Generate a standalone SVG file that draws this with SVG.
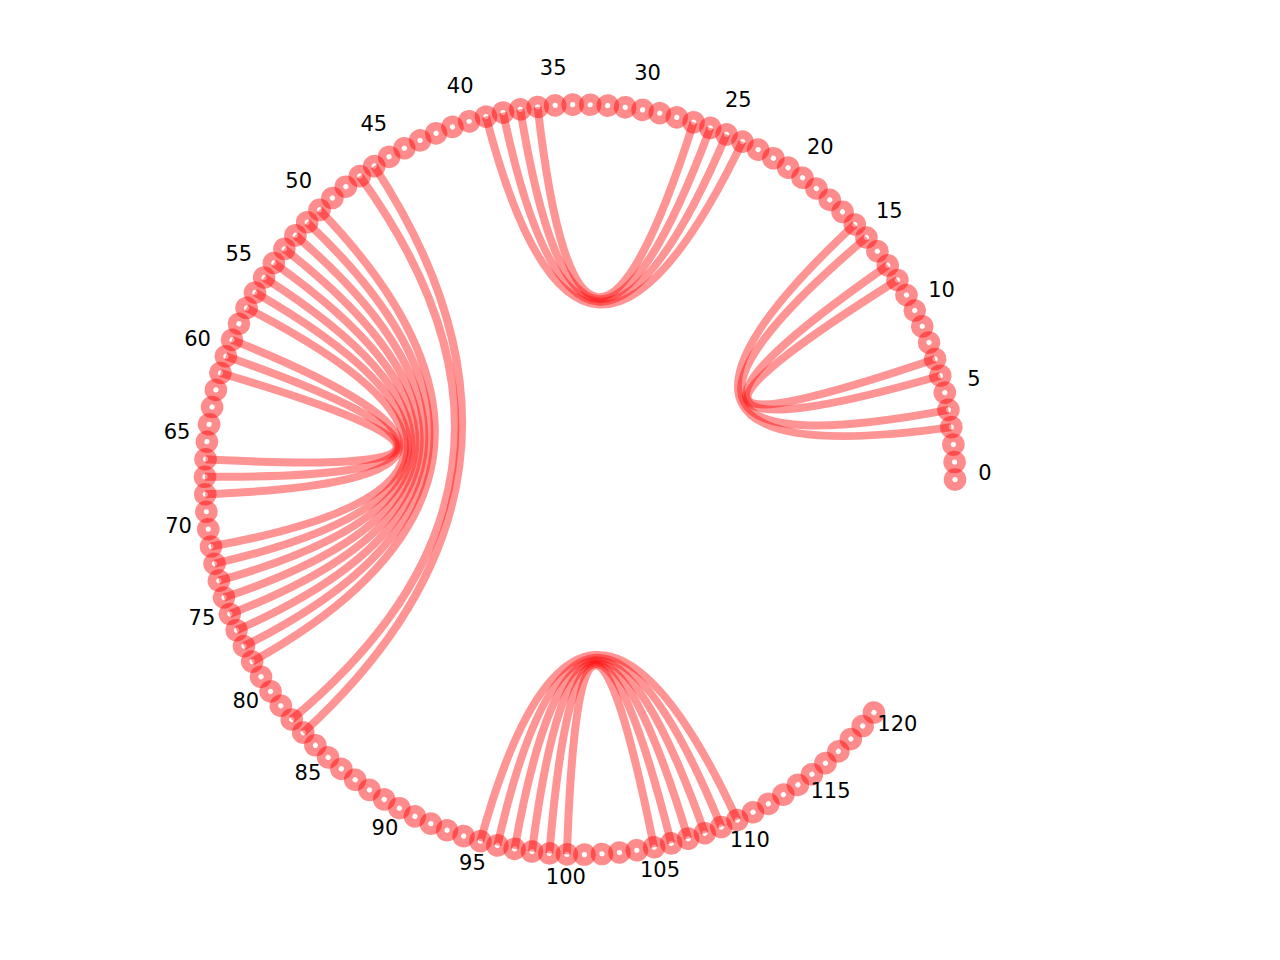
<svg xmlns="http://www.w3.org/2000/svg" xmlns:xlink="http://www.w3.org/1999/xlink" width="1280" height="960" viewBox="0 0 1280 960">
<style>
.ring{fill:#ff0000;fill-opacity:0.45}
.dot{fill:#ffffff}
.edge{fill:none;stroke:#ff0000;stroke-opacity:0.42;stroke-width:8;stroke-linecap:butt}
.lbl{font-family:"DejaVu Sans","Liberation Sans",sans-serif;font-size:21px;fill:#000;text-anchor:middle}
</style>
<defs>
<g id="nd"><circle class="ring" cx="955" cy="479.6" r="11.3"/><circle class="dot" cx="955" cy="479.6" r="2.6"/></g>
</defs>
<rect width="1280" height="960" fill="#fff"/>
<g id="nodes">
<g id="node-0"><use href="#nd"/></g>
<g id="node-1"><use href="#nd" transform="rotate(-2.68 580 479.6)"/></g>
<g id="node-2"><use href="#nd" transform="rotate(-5.36 580 479.6)"/></g>
<g id="node-3"><use href="#nd" transform="rotate(-8.04 580 479.6)"/></g>
<g id="node-4"><use href="#nd" transform="rotate(-10.72 580 479.6)"/></g>
<g id="node-5"><use href="#nd" transform="rotate(-13.4 580 479.6)"/></g>
<g id="node-6"><use href="#nd" transform="rotate(-16.08 580 479.6)"/></g>
<g id="node-7"><use href="#nd" transform="rotate(-18.76 580 479.6)"/></g>
<g id="node-8"><use href="#nd" transform="rotate(-21.44 580 479.6)"/></g>
<g id="node-9"><use href="#nd" transform="rotate(-24.12 580 479.6)"/></g>
<g id="node-10"><use href="#nd" transform="rotate(-26.8 580 479.6)"/></g>
<g id="node-11"><use href="#nd" transform="rotate(-29.48 580 479.6)"/></g>
<g id="node-12"><use href="#nd" transform="rotate(-32.16 580 479.6)"/></g>
<g id="node-13"><use href="#nd" transform="rotate(-34.84 580 479.6)"/></g>
<g id="node-14"><use href="#nd" transform="rotate(-37.52 580 479.6)"/></g>
<g id="node-15"><use href="#nd" transform="rotate(-40.2 580 479.6)"/></g>
<g id="node-16"><use href="#nd" transform="rotate(-42.88 580 479.6)"/></g>
<g id="node-17"><use href="#nd" transform="rotate(-45.56 580 479.6)"/></g>
<g id="node-18"><use href="#nd" transform="rotate(-48.24 580 479.6)"/></g>
<g id="node-19"><use href="#nd" transform="rotate(-50.92 580 479.6)"/></g>
<g id="node-20"><use href="#nd" transform="rotate(-53.6 580 479.6)"/></g>
<g id="node-21"><use href="#nd" transform="rotate(-56.28 580 479.6)"/></g>
<g id="node-22"><use href="#nd" transform="rotate(-58.96 580 479.6)"/></g>
<g id="node-23"><use href="#nd" transform="rotate(-61.64 580 479.6)"/></g>
<g id="node-24"><use href="#nd" transform="rotate(-64.32 580 479.6)"/></g>
<g id="node-25"><use href="#nd" transform="rotate(-67 580 479.6)"/></g>
<g id="node-26"><use href="#nd" transform="rotate(-69.68 580 479.6)"/></g>
<g id="node-27"><use href="#nd" transform="rotate(-72.36 580 479.6)"/></g>
<g id="node-28"><use href="#nd" transform="rotate(-75.04 580 479.6)"/></g>
<g id="node-29"><use href="#nd" transform="rotate(-77.72 580 479.6)"/></g>
<g id="node-30"><use href="#nd" transform="rotate(-80.4 580 479.6)"/></g>
<g id="node-31"><use href="#nd" transform="rotate(-83.08 580 479.6)"/></g>
<g id="node-32"><use href="#nd" transform="rotate(-85.76 580 479.6)"/></g>
<g id="node-33"><use href="#nd" transform="rotate(-88.44 580 479.6)"/></g>
<g id="node-34"><use href="#nd" transform="rotate(-91.12 580 479.6)"/></g>
<g id="node-35"><use href="#nd" transform="rotate(-93.8 580 479.6)"/></g>
<g id="node-36"><use href="#nd" transform="rotate(-96.48 580 479.6)"/></g>
<g id="node-37"><use href="#nd" transform="rotate(-99.16 580 479.6)"/></g>
<g id="node-38"><use href="#nd" transform="rotate(-101.84 580 479.6)"/></g>
<g id="node-39"><use href="#nd" transform="rotate(-104.52 580 479.6)"/></g>
<g id="node-40"><use href="#nd" transform="rotate(-107.2 580 479.6)"/></g>
<g id="node-41"><use href="#nd" transform="rotate(-109.88 580 479.6)"/></g>
<g id="node-42"><use href="#nd" transform="rotate(-112.56 580 479.6)"/></g>
<g id="node-43"><use href="#nd" transform="rotate(-115.24 580 479.6)"/></g>
<g id="node-44"><use href="#nd" transform="rotate(-117.92 580 479.6)"/></g>
<g id="node-45"><use href="#nd" transform="rotate(-120.6 580 479.6)"/></g>
<g id="node-46"><use href="#nd" transform="rotate(-123.28 580 479.6)"/></g>
<g id="node-47"><use href="#nd" transform="rotate(-125.96 580 479.6)"/></g>
<g id="node-48"><use href="#nd" transform="rotate(-128.64 580 479.6)"/></g>
<g id="node-49"><use href="#nd" transform="rotate(-131.32 580 479.6)"/></g>
<g id="node-50"><use href="#nd" transform="rotate(-134 580 479.6)"/></g>
<g id="node-51"><use href="#nd" transform="rotate(-136.68 580 479.6)"/></g>
<g id="node-52"><use href="#nd" transform="rotate(-139.36 580 479.6)"/></g>
<g id="node-53"><use href="#nd" transform="rotate(-142.04 580 479.6)"/></g>
<g id="node-54"><use href="#nd" transform="rotate(-144.72 580 479.6)"/></g>
<g id="node-55"><use href="#nd" transform="rotate(-147.4 580 479.6)"/></g>
<g id="node-56"><use href="#nd" transform="rotate(-150.08 580 479.6)"/></g>
<g id="node-57"><use href="#nd" transform="rotate(-152.76 580 479.6)"/></g>
<g id="node-58"><use href="#nd" transform="rotate(-155.44 580 479.6)"/></g>
<g id="node-59"><use href="#nd" transform="rotate(-158.12 580 479.6)"/></g>
<g id="node-60"><use href="#nd" transform="rotate(-160.8 580 479.6)"/></g>
<g id="node-61"><use href="#nd" transform="rotate(-163.48 580 479.6)"/></g>
<g id="node-62"><use href="#nd" transform="rotate(-166.16 580 479.6)"/></g>
<g id="node-63"><use href="#nd" transform="rotate(-168.84 580 479.6)"/></g>
<g id="node-64"><use href="#nd" transform="rotate(-171.52 580 479.6)"/></g>
<g id="node-65"><use href="#nd" transform="rotate(-174.2 580 479.6)"/></g>
<g id="node-66"><use href="#nd" transform="rotate(-176.88 580 479.6)"/></g>
<g id="node-67"><use href="#nd" transform="rotate(-179.56 580 479.6)"/></g>
<g id="node-68"><use href="#nd" transform="rotate(-182.24 580 479.6)"/></g>
<g id="node-69"><use href="#nd" transform="rotate(-184.92 580 479.6)"/></g>
<g id="node-70"><use href="#nd" transform="rotate(-187.6 580 479.6)"/></g>
<g id="node-71"><use href="#nd" transform="rotate(-190.28 580 479.6)"/></g>
<g id="node-72"><use href="#nd" transform="rotate(-192.96 580 479.6)"/></g>
<g id="node-73"><use href="#nd" transform="rotate(-195.64 580 479.6)"/></g>
<g id="node-74"><use href="#nd" transform="rotate(-198.32 580 479.6)"/></g>
<g id="node-75"><use href="#nd" transform="rotate(-201 580 479.6)"/></g>
<g id="node-76"><use href="#nd" transform="rotate(-203.68 580 479.6)"/></g>
<g id="node-77"><use href="#nd" transform="rotate(-206.36 580 479.6)"/></g>
<g id="node-78"><use href="#nd" transform="rotate(-209.04 580 479.6)"/></g>
<g id="node-79"><use href="#nd" transform="rotate(-211.72 580 479.6)"/></g>
<g id="node-80"><use href="#nd" transform="rotate(-214.4 580 479.6)"/></g>
<g id="node-81"><use href="#nd" transform="rotate(-217.08 580 479.6)"/></g>
<g id="node-82"><use href="#nd" transform="rotate(-219.76 580 479.6)"/></g>
<g id="node-83"><use href="#nd" transform="rotate(-222.44 580 479.6)"/></g>
<g id="node-84"><use href="#nd" transform="rotate(-225.12 580 479.6)"/></g>
<g id="node-85"><use href="#nd" transform="rotate(-227.8 580 479.6)"/></g>
<g id="node-86"><use href="#nd" transform="rotate(-230.48 580 479.6)"/></g>
<g id="node-87"><use href="#nd" transform="rotate(-233.16 580 479.6)"/></g>
<g id="node-88"><use href="#nd" transform="rotate(-235.84 580 479.6)"/></g>
<g id="node-89"><use href="#nd" transform="rotate(-238.52 580 479.6)"/></g>
<g id="node-90"><use href="#nd" transform="rotate(-241.2 580 479.6)"/></g>
<g id="node-91"><use href="#nd" transform="rotate(-243.88 580 479.6)"/></g>
<g id="node-92"><use href="#nd" transform="rotate(-246.56 580 479.6)"/></g>
<g id="node-93"><use href="#nd" transform="rotate(-249.24 580 479.6)"/></g>
<g id="node-94"><use href="#nd" transform="rotate(-251.92 580 479.6)"/></g>
<g id="node-95"><use href="#nd" transform="rotate(-254.6 580 479.6)"/></g>
<g id="node-96"><use href="#nd" transform="rotate(-257.28 580 479.6)"/></g>
<g id="node-97"><use href="#nd" transform="rotate(-259.96 580 479.6)"/></g>
<g id="node-98"><use href="#nd" transform="rotate(-262.64 580 479.6)"/></g>
<g id="node-99"><use href="#nd" transform="rotate(-265.32 580 479.6)"/></g>
<g id="node-100"><use href="#nd" transform="rotate(-268 580 479.6)"/></g>
<g id="node-101"><use href="#nd" transform="rotate(-270.68 580 479.6)"/></g>
<g id="node-102"><use href="#nd" transform="rotate(-273.36 580 479.6)"/></g>
<g id="node-103"><use href="#nd" transform="rotate(-276.04 580 479.6)"/></g>
<g id="node-104"><use href="#nd" transform="rotate(-278.72 580 479.6)"/></g>
<g id="node-105"><use href="#nd" transform="rotate(-281.4 580 479.6)"/></g>
<g id="node-106"><use href="#nd" transform="rotate(-284.08 580 479.6)"/></g>
<g id="node-107"><use href="#nd" transform="rotate(-286.76 580 479.6)"/></g>
<g id="node-108"><use href="#nd" transform="rotate(-289.44 580 479.6)"/></g>
<g id="node-109"><use href="#nd" transform="rotate(-292.12 580 479.6)"/></g>
<g id="node-110"><use href="#nd" transform="rotate(-294.8 580 479.6)"/></g>
<g id="node-111"><use href="#nd" transform="rotate(-297.48 580 479.6)"/></g>
<g id="node-112"><use href="#nd" transform="rotate(-300.16 580 479.6)"/></g>
<g id="node-113"><use href="#nd" transform="rotate(-302.84 580 479.6)"/></g>
<g id="node-114"><use href="#nd" transform="rotate(-305.52 580 479.6)"/></g>
<g id="node-115"><use href="#nd" transform="rotate(-308.2 580 479.6)"/></g>
<g id="node-116"><use href="#nd" transform="rotate(-310.88 580 479.6)"/></g>
<g id="node-117"><use href="#nd" transform="rotate(-313.56 580 479.6)"/></g>
<g id="node-118"><use href="#nd" transform="rotate(-316.24 580 479.6)"/></g>
<g id="node-119"><use href="#nd" transform="rotate(-318.92 580 479.6)"/></g>
<g id="node-120"><use href="#nd" transform="rotate(-321.6 580 479.6)"/></g>
</g>
<g id="connectors">
<g id="edges-a" transform="rotate(-25.46 580 479.6)">
<path class="edge" d="M952.44 435.85Q580 479.6 952.44 523.35"/>
<path class="edge" d="M949.99 418.48Q580 479.6 949.99 540.72"/>
<path class="edge" d="M942.66 384.19Q580 479.6 942.66 575.01"/>
<path class="edge" d="M937.8 367.33Q580 479.6 937.8 591.87"/>
</g>
<g id="edges-b" transform="rotate(-84.42 580 479.6)">
<path class="edge" d="M946.72 401.25Q580 479.6 946.72 557.95"/>
<path class="edge" d="M942.66 384.19Q580 479.6 942.66 575.01"/>
<path class="edge" d="M937.8 367.33Q580 479.6 937.8 591.87"/>
<path class="edge" d="M932.16 350.73Q580 479.6 932.16 608.47"/>
</g>
<g id="edges-c1" transform="rotate(-170.18 580 479.6)">
<path class="edge" d="M952.44 435.85Q580 479.6 952.44 523.35"/>
<path class="edge" d="M949.99 418.48Q580 479.6 949.99 540.72"/>
<path class="edge" d="M946.72 401.25Q580 479.6 946.72 557.95"/>
</g>
<g id="edges-c2" transform="rotate(-171.52 580 479.6)">
<path class="edge" d="M935.08 359Q580 479.6 935.08 600.2"/>
<path class="edge" d="M929.05 342.53Q580 479.6 929.05 616.67"/>
<path class="edge" d="M922.26 326.36Q580 479.6 922.26 632.84"/>
<path class="edge" d="M914.72 310.52Q580 479.6 914.72 648.68"/>
<path class="edge" d="M906.46 295.05Q580 479.6 906.46 664.15"/>
<path class="edge" d="M897.46 279.99Q580 479.6 897.46 679.21"/>
<path class="edge" d="M887.78 265.37Q580 479.6 887.78 693.83"/>
<path class="edge" d="M877.43 251.21Q580 479.6 877.43 707.99"/>
</g>
<g id="edges-c3" transform="rotate(-172.86 580 479.6)">
<path class="edge" d="M836.23 205.79Q580 479.6 836.23 753.41"/>
<path class="edge" d="M823.15 194.1Q580 479.6 823.15 765.1"/>
</g>
<g id="edges-d" transform="rotate(-274.7 580 479.6)">
<path class="edge" d="M952.44 435.85Q580 479.6 952.44 523.35"/>
<path class="edge" d="M949.99 418.48Q580 479.6 949.99 540.72"/>
<path class="edge" d="M946.72 401.25Q580 479.6 946.72 557.95"/>
<path class="edge" d="M942.66 384.19Q580 479.6 942.66 575.01"/>
<path class="edge" d="M937.8 367.33Q580 479.6 937.8 591.87"/>
<path class="edge" d="M932.16 350.73Q580 479.6 932.16 608.47"/>
</g>
</g>
<g id="labels">
<text class="lbl" x="985" y="479.6">0</text>
<text class="lbl" x="973.98" y="385.74">5</text>
<text class="lbl" x="941.5" y="296.99">10</text>
<text class="lbl" x="889.34" y="218.19">15</text>
<text class="lbl" x="820.34" y="153.62">20</text>
<text class="lbl" x="738.25" y="106.8">25</text>
<text class="lbl" x="647.54" y="80.27">30</text>
<text class="lbl" x="553.16" y="75.49">35</text>
<text class="lbl" x="460.24" y="92.71">40</text>
<text class="lbl" x="373.84" y="131">45</text>
<text class="lbl" x="298.66" y="188.27">50</text>
<text class="lbl" x="238.79" y="261.4">55</text>
<text class="lbl" x="197.53" y="346.41">60</text>
<text class="lbl" x="177.07" y="438.67">65</text>
<text class="lbl" x="178.56" y="533.17">70</text>
<text class="lbl" x="201.9" y="624.74">75</text>
<text class="lbl" x="245.83" y="708.41">80</text>
<text class="lbl" x="307.95" y="779.62">85</text>
<text class="lbl" x="384.89" y="834.51">90</text>
<text class="lbl" x="472.45" y="870.06">95</text>
<text class="lbl" x="565.87" y="884.35">100</text>
<text class="lbl" x="660.05" y="876.61">105</text>
<text class="lbl" x="749.88" y="847.25">110</text>
<text class="lbl" x="830.46" y="797.87">115</text>
<text class="lbl" x="897.4" y="731.17">120</text>
</g>
</svg>
